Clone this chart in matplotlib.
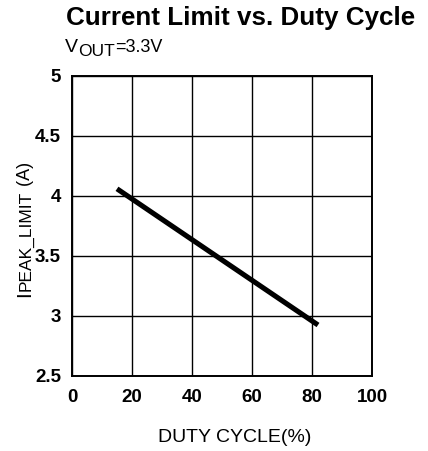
import matplotlib
matplotlib.use('Agg')
import matplotlib.pyplot as plt

plt.rcParams['font.family'] = ['Liberation Sans', 'DejaVu Sans']

# data
duty = [15, 82]
i_peak = [4.06, 2.925]
x_ticks = [0, 20, 40, 60, 80, 100]
y_ticks = [2.5, 3, 3.5, 4, 4.5, 5]
y_labels = ['2.5', '3', '3.5', '4', '4.5', '5']

W, H = 428, 451
fig = plt.figure(figsize=(W / 100, H / 100), dpi=100)
# axes box: x 72..372 px, y 76..376 px
ax = fig.add_axes([72 / W, 1 - 376 / H, 300 / W, 300 / H])

ax.plot(duty, i_peak, color='black', lw=3.7, solid_capstyle='butt')

ax.set_xlim(0, 100)
ax.set_ylim(2.5, 5)
ax.set_xticks(x_ticks)
ax.set_yticks(y_ticks)
ax.set_yticklabels(y_labels)
ax.grid(True, color='black', lw=1.0)
ax.tick_params(length=0, labelsize=13.5)
ax.tick_params(axis='x', pad=9)
ax.tick_params(axis='y', pad=8)
for lab in ax.get_xticklabels() + ax.get_yticklabels():
    lab.set_fontweight('bold')
for sp in ax.spines.values():
    sp.set_linewidth(1.4)

fig.text(235 / W, 1 - 442 / H, 'DUTY CYCLE(%)', ha='center', va='baseline', fontsize=14)
fig.text(241 / W, 1 - 25 / H, 'Current Limit vs. Duty Cycle', ha='center', va='baseline',
         fontsize=18.7, fontweight='bold')

renderer = fig.canvas.get_renderer()


def write_pieces(x, y, pieces, vertical=False):
    # pieces: (text, fontsize, baseline shift in px, downward in text frame)
    for txt, fs, shift in pieces:
        if vertical:
            t = fig.text((x + shift) / W, 1 - y / H, txt, fontsize=fs, rotation=90,
                         rotation_mode='anchor', ha='left', va='baseline')
            y -= t.get_window_extent(renderer).height
        else:
            t = fig.text(x / W, 1 - (y + shift) / H, txt, fontsize=fs,
                         ha='left', va='baseline')
            x += t.get_window_extent(renderer).width


write_pieces(65, 52, [('V', 14, 0), ('OUT', 12.5, 4), ('=3.3V', 13, 0)])
write_pieces(30, 297, [('I', 15, 0), ('PEAK_LIMIT', 12.5, 0), (' (A)', 13, 0)], vertical=True)

fig.savefig('out.png', dpi=100)
